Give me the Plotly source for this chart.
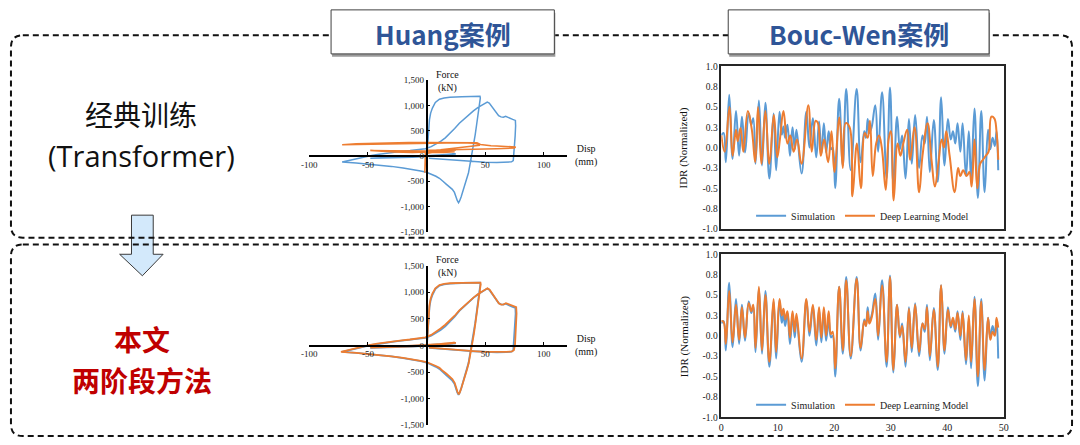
import plotly.graph_objects as go

W, H = 1080, 445
def px(x): return x / W
def py(y): return 1 - y / H

BLUE = "#5B9BD5"
ORANGE = "#ED7D31"
SERIF = "Liberation Serif"
CJK = "Noto Sans CJK SC"

# ---------------- Huang hysteresis data (Disp mm, Force kN) ----------------
huang_sim_disp = [0, 8, 16, 24, 18, 8, 0, -12, -25, -38, -48, -35, -20, -8, 0, 12, 22, 25, 14, 4, 0,
                  0.5, 0.9, 1.3, 1.8, 2.5, 3.5, 5, 7.5, 11, 15, 20, 30, 40, 45.6,
                  45.9, 45.2, 44.6, 43.6, 42.6, 41.5, 40.2, 38.8, 37.2, 35.8, 34.2, 32.5, 31, 29.5, 28.2, 27.3,
                  26.2, 25, 23.8, 22, 19.5, 17, 14, 11, 8, 5, 2, 0, -5, -12, -20, -30, -40, -50, -60, -72,
                  -66, -60, -54, -48, -42, -35, -28, -21, -14, -7, -1, 4, 8, 12, 16, 20, 24, 28, 32, 36, 40,
                  44, 48, 51.8, 53.5, 55.5, 57.5, 59.5, 61.5, 63.5, 65.5, 67.5, 69.5, 71.5, 73.5, 75.8,
                  76, 75.6, 75.2, 74.8, 74, 72.5, 68, 60, 50, 40, 30, 20, 10, 2]
huang_sim_force = [0, 18, 32, 45, 30, 10, -8, -22, -32, -40, -45, -30, -15, -2, 8, 22, 38, 42, 18, 0, -5,
                   60, 200, 380, 560, 720, 850, 950, 1060, 1125, 1150, 1165, 1175, 1180, 1182,
                   1150, 1050, 930, 760, 600, 420, 220, 30, -150, -330, -460, -600, -700, -810, -890, -925,
                   -880, -790, -720, -660, -600, -560, -500, -440, -400, -370, -340, -320, -295, -265, -235,
                   -205, -180, -158, -138, -120,
                   -85, -55, -25, 5, 30, 55, 75, 92, 108, 122, 145, 185, 230, 290, 360, 445, 545, 650, 735,
                   815, 895, 965, 1025, 1070, 1050, 990, 920, 850, 800, 775, 768, 785, 770, 745, 725, 705,
                   600, 400, 200, 20, -90, -115, -125, -128, -122, -108, -90, -72, -55, -42]

# classic Transformer prediction (top)
huang_cls_disp = [0, 1, -1, -1.5, -0.5, 6, 14, 24, 12, 0, -12, -28, -48, -30, -12, 0, 12, 25, 12, 0,
                  5, 12, 20, 30, 38, 45.5,
                  44, 40, 30, 20, 10, 0, -15, -30, -45, -60, -72,
                  -60, -45, -30, -15, 0, 15, 30, 40, 43, 46, 50, 55, 60, 65, 70, 76,
                  75, 70, 60, 50, 40, 30, 20, 10, 0]
huang_cls_force = [0, 70, 60, -330, 50, 75, 70, 85, 95, 80, 70, 80, 110, 105, 95, 100, 110, 115, 100, 95,
                   110, 125, 145, 170, 190, 215,
                   240, 255, 262, 258, 255, 250, 245, 240, 235, 230, 225,
                   245, 255, 262, 266, 268, 270, 268, 265, 262, 230, 215, 205, 198, 192, 188, 180,
                   160, 150, 145, 140, 135, 130, 125, 120, 115]

# two-stage method prediction (bottom)
huang_two_disp = [0, 8, 16, 24, 18, 8, 0, -12, -25, -38, -48, -35, -20, -8, 0, 12, 22, 25, 14, 4, 0,
                  0.5, 0.9, 1.3, 1.8, 2.5, 3.5, 5, 7.5, 11, 15, 20, 30, 40, 46,
                  46.2, 45.5, 44.8, 43.8, 42.8, 41.7, 40.4, 39, 37.4, 36, 34.4, 32.7, 31.2, 29.7, 28.4, 27.5,
                  26.4, 25.2, 24, 22, 19.5, 17, 14, 11, 8, 5, 2, 0, -5, -12, -20, -30, -40, -50, -60, -73,
                  -66, -60, -54, -48, -42, -35, -28, -21, -14, -7, -1, 4, 8, 12, 16, 20, 24, 28, 32, 36, 40,
                  44, 48, 52, 53.8, 55.8, 57.8, 59.8, 61.8, 63.8, 65.8, 67.8, 69.8, 72, 74, 76.5,
                  76.8, 76.4, 76, 75.5, 74.6, 73, 68, 60, 50, 40, 30, 20, 10, 2]
huang_two_force = [0, 25, 40, 52, 35, 15, -2, -15, -25, -32, -38, -24, -10, 2, 12, 28, 44, 48, 24, 5, 0,
                   90, 250, 430, 600, 760, 880, 975, 1075, 1135, 1158, 1170, 1178, 1182, 1183,
                   1150, 1050, 930, 760, 600, 420, 220, 30, -150, -330, -460, -600, -700, -800, -880, -915,
                   -870, -780, -700, -630, -570, -530, -480, -420, -385, -355, -330, -310, -288, -260, -232,
                   -203, -178, -156, -137, -118,
                   -80, -50, -20, 10, 35, 60, 80, 97, 113, 128, 155, 200, 255, 320, 390, 470, 560, 660, 745,
                   822, 900, 968, 1028, 1075, 1048, 985, 915, 845, 790, 770, 775, 795, 780, 750, 735, 720,
                   600, 400, 200, 20, -85, -110, -120, -125, -118, -104, -86, -68, -52, -40]

huang_x_ticks = [-100, -50, 50, 100]
huang_x_text = ["-100", "-50", "50", "100"]
huang_y_ticks = [-1500, -1000, -500, 0, 500, 1000, 1500]
huang_y_text = ["-1,500", "-1,000", "-500", "0", "500", "1,000", "1,500"]

# ---------------- Bouc-Wen IDR time histories ----------------
t_sim = [0.0, 0.4, 0.8, 1.4, 2.0, 2.6, 3.15, 3.65, 4.2, 4.85, 5.3, 5.65, 6.05, 6.65, 7.2, 7.8, 8.5,
         9.25, 9.7, 10.3, 10.7, 11.0, 11.3, 11.7, 12.15, 12.6, 13.0, 13.3, 14.2, 15.05, 15.6, 16.2,
         16.8, 17.3, 17.7, 18.15, 18.55, 19.0, 19.4, 19.7, 20.15, 20.85, 21.5, 22.1, 22.9, 23.95,
         24.65, 25.3, 25.6, 25.9, 26.2, 26.6, 27.25, 27.75, 28.45, 29.25, 29.85, 30.45, 31.1, 31.6,
         32.0, 32.6, 33.2, 33.7, 34.3, 35.0, 35.6, 36.0, 36.4, 36.9, 37.6, 38.3, 38.9, 39.5, 40.1,
         40.6, 41.0, 41.4, 41.8, 42.3, 42.7, 43.3, 43.8, 44.2, 44.8, 45.4, 46.0, 46.6, 47.2, 47.6,
         48.0, 48.4, 48.7, 49.0]
idr_sim = [0.15, 0.18, -0.18, 0.65, -0.14, 0.45, -0.1, 0.38, -0.06, 0.42, 0.28, 0.36, -0.2, 0.58,
           -0.22, 0.55, -0.38, 0.42, -0.28, 0.44, 0.16, 0.26, 0.12, 0.28, -0.1, 0.25, -0.02, 0.22,
           -0.32, 0.44, 0.0, 0.36, -0.12, 0.32, -0.08, 0.3, -0.06, 0.2, -0.02, 0.0, -0.5, 0.6, -0.22,
           0.72, -0.28, 0.72, -0.18, 0.2, 0.12, 0.35, 0.18, 0.25, 0.52, -0.05, 0.68, -0.38, 0.74,
           -0.45, 0.38, -0.02, 0.15, -0.38, 0.35, -0.2, 0.4, -0.25, 0.15, 0.05, 0.38, -0.3, 0.34,
           -0.42, 0.62, -0.22, 0.35, 0.1, 0.2, 0.05, 0.3, -0.05, 0.3, -0.35, 0.2, -0.4, 0.48, -0.62,
           0.45, -0.55, 0.22, -0.02, 0.12, 0.02, 0.2, -0.28]

idr_two = [0.18, 0.17, -0.1, 0.55, -0.08, 0.38, -0.05, 0.35, -0.02, 0.4, 0.3, 0.38, -0.15, 0.6,
           -0.18, 0.5, -0.32, 0.45, -0.2, 0.45, 0.25, 0.33, 0.2, 0.3, -0.02, 0.3, 0.05, 0.27,
           -0.28, 0.45, 0.05, 0.38, -0.05, 0.35, -0.02, 0.35, 0.0, 0.3, 0.02, 0.05, -0.4, 0.6, -0.18,
           0.68, -0.25, 0.7, -0.15, 0.18, 0.12, 0.3, 0.15, 0.22, 0.45, 0.0, 0.62, -0.32, 0.72,
           -0.42, 0.38, 0.0, 0.12, -0.32, 0.33, -0.15, 0.38, -0.2, 0.15, 0.08, 0.35, -0.25, 0.32,
           -0.38, 0.62, -0.18, 0.32, 0.12, 0.22, 0.08, 0.28, 0.0, 0.28, -0.3, 0.25, -0.32, 0.45, -0.5,
           0.42, -0.42, 0.22, -0.05, 0.05, 0.0, 0.22, 0.1]

t_cls = [0.0, 0.6, 1.45, 2.0, 2.6, 2.9, 3.4, 3.9, 4.7, 5.4, 6.0, 6.5, 7.1, 7.8, 8.5, 9.3, 9.9, 10.4,
         11.0, 11.7, 12.2, 12.8, 13.4, 14.2, 15.4, 16.0, 16.7, 17.1, 17.6, 18.2, 18.9, 19.5, 20.0,
         20.9, 21.5, 22.0, 22.7, 23.2, 24.0, 24.7, 25.4, 25.9, 26.3, 26.8, 27.4, 27.9, 28.4, 29.1,
         29.6, 30.0, 30.5, 31.2, 31.7, 32.2, 32.9, 33.4, 34.2, 35.0, 35.6, 36.5, 37.2, 37.8, 38.4,
         39.0, 39.4, 39.8, 40.4, 41.3, 41.9, 42.3, 42.8, 43.4, 43.9, 44.3, 44.8, 45.3, 45.8, 46.3,
         46.8, 47.3, 47.8, 48.3, 48.7, 49.0]
idr_cls = [0.15, -0.05, 0.5, -0.1, 0.22, 0.08, 0.24, -0.05, 0.45, 0.22, -0.18, 0.5, -0.2, 0.45,
           -0.2, 0.4, -0.12, 0.12, 0.45, 0.05, 0.15, -0.05, 0.1, -0.2, 0.52, -0.05, 0.33, 0.3, -0.1,
           0.1, -0.18, 0.2, -0.3, 0.37, -0.25, 0.3, 0.25, -0.6, 0.05, -0.5, 0.18, 0.12, 0.33, -0.35,
           0.05, 0.15, 0.0, -0.52, 0.1, 0.2, -0.65, 0.05, -0.1, 0.05, 0.22, -0.15, 0.25, -0.55, -0.1,
           0.3, -0.15, -0.48, -0.2, 0.1, 0.0, 0.2, -0.1, -0.55, -0.25, -0.35, -0.28, -0.35, -0.3,
           -0.48, 0.1, -0.5, -0.2, -0.15, -0.1, -0.05, 0.38, 0.36, 0.2, -0.15]

ts_y_ticks = [-1.0, -0.75, -0.5, -0.25, 0.0, 0.25, 0.5, 0.75, 1.0]
ts_y_text = ["-1.0", "-0.8", "-0.5", "-0.3", "0.0", "0.3", "0.5", "0.8", "1.0"]
ts_x_ticks = [0, 10, 20, 30, 40, 50]

fig = go.Figure()

SPL = dict(shape="spline", smoothing=1.2)
# Huang top
fig.add_trace(go.Scatter(x=huang_sim_disp, y=huang_sim_force, xaxis="x", yaxis="y", mode="lines",
                         line=dict(color=BLUE, width=1.5), showlegend=False))
fig.add_trace(go.Scatter(x=huang_cls_disp, y=huang_cls_force, xaxis="x", yaxis="y", mode="lines",
                         line=dict(color=ORANGE, width=1.5), showlegend=False))
# Huang bottom
fig.add_trace(go.Scatter(x=huang_sim_disp, y=huang_sim_force, xaxis="x2", yaxis="y2", mode="lines",
                         line=dict(color=BLUE, width=1.8), showlegend=False))
fig.add_trace(go.Scatter(x=huang_two_disp, y=huang_two_force, xaxis="x2", yaxis="y2", mode="lines",
                         line=dict(color=ORANGE, width=1.8), showlegend=False))
# Bouc-Wen top
fig.add_trace(go.Scatter(x=t_sim, y=idr_sim, xaxis="x3", yaxis="y3", mode="lines", name="Simulation",
                         line=dict(color=BLUE, width=2, **SPL), legend="legend"))
fig.add_trace(go.Scatter(x=t_cls, y=idr_cls, xaxis="x3", yaxis="y3", mode="lines", name="Deep Learning Model",
                         line=dict(color=ORANGE, width=2, **SPL), legend="legend"))
# Bouc-Wen bottom
fig.add_trace(go.Scatter(x=t_sim, y=idr_sim, xaxis="x4", yaxis="y4", mode="lines", name="Simulation",
                         line=dict(color=BLUE, width=2, **SPL), legend="legend2"))
fig.add_trace(go.Scatter(x=t_sim, y=idr_two, xaxis="x4", yaxis="y4", mode="lines", name="Deep Learning Model",
                         line=dict(color=ORANGE, width=2, **SPL), legend="legend2"))

hx_dom = [px(305), px(566)]
hx_zero = hx_dom[0] + (100 / 220) * (hx_dom[1] - hx_dom[0])
top_y_dom = [py(232), py(77)]
bot_y_dom = [py(430), py(266.7)]

tick_font = dict(family=SERIF, size=9, color="#222")

def huang_x(ydom):
    return dict(domain=hx_dom, range=[-100, 120], anchor="free", position=(ydom[0] + ydom[1]) / 2,
                showline=True, linecolor="black", linewidth=1.5, ticks="inside", ticklen=3,
                tickcolor="black", tickvals=huang_x_ticks, ticktext=huang_x_text, tickfont=tick_font,
                showgrid=False, zeroline=False, fixedrange=True)

def huang_y(ydom):
    return dict(domain=ydom, range=[-1500, 1500], anchor="free", position=hx_zero,
                showline=True, linecolor="black", linewidth=1.5, ticks="inside", ticklen=3,
                tickcolor="black", tickvals=huang_y_ticks, ticktext=huang_y_text, tickfont=tick_font,
                showgrid=False, zeroline=False, fixedrange=True)

ts_x_dom = [px(722), px(1008)]

def ts_x(anchor, labels):
    return dict(domain=ts_x_dom, range=[0, 50], anchor=anchor, showline=True, mirror=True,
                linecolor="#262626", linewidth=1.5, ticks="", tickvals=ts_x_ticks,
                showticklabels=labels, tickfont=dict(family=SERIF, size=10, color="#222"),
                showgrid=False, zeroline=False)

def ts_y(anchor, dom):
    return dict(domain=dom, range=[-1, 1], anchor=anchor, showline=True, mirror=True,
                linecolor="#262626", linewidth=1.5, ticks="", tickvals=ts_y_ticks, ticktext=ts_y_text,
                tickfont=dict(family=SERIF, size=9.5, color="#222"), showgrid=False, zeroline=False)

def legend_at(yc):
    return dict(x=px(865), y=py(yc), xanchor="center", yanchor="middle", orientation="h",
                font=dict(family=SERIF, size=10, color="#222"), bgcolor="rgba(0,0,0,0)",
                itemwidth=30, tracegroupgap=0, borderwidth=0)

def rrect(x0, y0, x1, y1, r):
    rx, ry = r / W, r / H
    X0, X1, Y0, Y1 = px(x0), px(x1), py(y0), py(y1)
    return (f"M {X0+rx},{Y0} L {X1-rx},{Y0} Q {X1},{Y0} {X1},{Y0-ry} L {X1},{Y1+ry} "
            f"Q {X1},{Y1} {X1-rx},{Y1} L {X0+rx},{Y1} Q {X0},{Y1} {X0},{Y1+ry} "
            f"L {X0},{Y0-ry} Q {X0},{Y0} {X0+rx},{Y0} Z")

def poly(pts):
    return "M " + " L ".join(f"{px(a)},{py(b)}" for a, b in pts) + " Z"

shapes = []
# arrow
shapes.append(dict(type="path", xref="paper", yref="paper",
                   path=poly([(125, 215), (147, 215), (147, 255), (157, 255), (136, 277), (113, 255), (125, 255)]),
                   fillcolor="#D3E9FB", line=dict(color="#3A3A3A", width=1)))
# dashed boxes
for (a, b, c, d) in [(3, 31, 1077, 238), (3, 245, 1077, 441)]:
    shapes.append(dict(type="path", xref="paper", yref="paper", path=rrect(a, b, c, d, 12),
                       line=dict(color="#111", width=2, dash="6px,4px"), fillcolor="rgba(0,0,0,0)"))
# title boxes with shadow
for (a, c) in [(327, 553), (729, 993)]:
    shapes.append(dict(type="rect", xref="paper", yref="paper", x0=px(a + 1), x1=px(c + 1), y0=py(53), y1=py(8),
                       fillcolor="#9A9A9A", line=dict(width=0)))
    shapes.append(dict(type="rect", xref="paper", yref="paper", x0=px(a), x1=px(c), y0=py(50), y1=py(5),
                       fillcolor="white", line=dict(color="#404040", width=1)))

annotations = []
def ann(text, x, y, size, color="#111", family=SERIF, angle=0, bold=False):
    annotations.append(dict(text=text, x=px(x), y=py(y), xref="paper", yref="paper", showarrow=False,
                            xanchor="center", yanchor="middle", textangle=angle,
                            font=dict(family=family, size=size, color=color,
                                      weight="bold" if bold else "normal")))

ann("Huang案例", 440, 29, 26, "#2F5597", CJK, bold=True)
ann("Bouc-Wen案例", 861, 29, 26, "#2F5597", CJK, bold=True)
ann("经典训练", 135, 112, 28, "#111", CJK)
ann("(Transformer)", 135, 153.5, 29, "#111", "Open Sans")
ann("本文", 136, 342, 28, "#C00000", CJK, bold=True)
ann("两阶段方法", 136, 384, 28, "#C00000", CJK, bold=True)
for yF, yD in [(78, 154), (268, 348)]:
    ann("Force<br>(kN)", 445, yF, 10)
    ann("Disp<br>(mm)", 585, yD, 10)
ann("IDR (Normalized)", 684, 146, 11, angle=-90)
ann("IDR (Normalized)", 685, 339, 11, angle=-90)

fig.update_layout(
    width=W, height=H, margin=dict(l=0, r=0, t=0, b=0),
    paper_bgcolor="white", plot_bgcolor="rgba(0,0,0,0)",
    xaxis=huang_x(top_y_dom), yaxis=huang_y(top_y_dom),
    xaxis2=huang_x(bot_y_dom), yaxis2=huang_y(bot_y_dom),
    xaxis3=ts_x("y3", False), yaxis3=ts_y("x3", [py(229), py(62.7)]),
    xaxis4=ts_x("y4", True), yaxis4=ts_y("x4", [py(421.7), py(255)]),
    legend=legend_at(215.7), legend2=legend_at(409),
    shapes=shapes, annotations=annotations, showlegend=True,
)

fig.write_html("out.html", config={"displayModeBar": False},
               post_script="document.body.style.margin='0';document.body.style.overflow='hidden';"
                           "document.documentElement.style.overflow='hidden';")
